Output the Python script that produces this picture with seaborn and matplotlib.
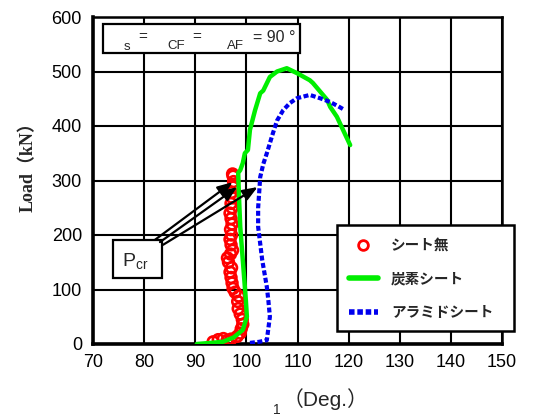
import matplotlib
matplotlib.use("Agg")
import matplotlib.pyplot as plt
import seaborn as sns
import numpy as np
from matplotlib.lines import Line2D
from matplotlib.patches import Rectangle

# ---- data ----
none_deg = [93.5, 94.5, 95.5, 96.2, 97.0, 98.2, 98.8, 99.0, 99.3, 99.2, 98.8, 98.4, 98.3, 98.5,
            97.8, 97.4, 97.2, 97.0, 96.8, 97.1, 96.5, 96.3, 96.9, 97.3, 97.0, 96.8, 97.1, 96.9,
            97.2, 97.0, 96.8, 97.2, 97.0, 97.3, 97.1, 97.4, 97.5, 97.4, 97.3]
none_load = [4, 8, 10, 6, 9, 14, 20, 28, 36, 45, 55, 65, 78, 88,
             95, 102, 112, 122, 132, 140, 150, 158, 165, 172, 182, 192, 200, 210,
             220, 230, 240, 250, 258, 268, 278, 288, 298, 308, 312]

cf_deg = [90.3, 93.0, 95.4, 97.5, 99.3, 100.1, 99.9, 99.7, 99.3, 98.8, 98.6, 98.4, 98.8, 99.3,
          99.7, 100.3, 100.7, 101.7, 102.7, 103.3, 104.6, 106.0, 107.9, 109.9, 112.4, 113.0,
          115.8, 116.4, 117.7, 120.3]
cf_load = [0, 2, 4, 12, 26, 50, 80, 105, 154, 215, 260, 314, 319, 332,
           350, 356, 393, 429, 460, 465, 490, 500, 506, 497, 484, 479,
           448, 435, 417, 365]

af_deg = [100.7, 102.5, 104.0, 104.6, 104.3, 104.0, 103.1, 102.3, 102.3, 102.5, 102.7, 103.3,
          104.0, 105.2, 106.0, 107.2, 108.5, 109.9, 112.4, 114.4, 116.4, 118.0, 119.3]
af_load = [2, 4, 7, 50, 80, 105, 154, 215, 250, 277, 306, 330,
           350, 387, 410, 429, 442, 451, 457, 451, 444, 436, 429]

labels = ["シート無", "炭素シート", "アラミドシート"]
xticks = [70, 80, 90, 100, 110, 120, 130, 140, 150]
yticks = [0, 100, 200, 300, 400, 500, 600]

# ---- style ----
sns.set_style("white")
plt.rcParams["font.family"] = ["Liberation Sans", "Noto Sans CJK JP", "DejaVu Sans"]
plt.rcParams["mathtext.fontset"] = "custom"
plt.rcParams["mathtext.rm"] = "Liberation Sans"
plt.rcParams["mathtext.it"] = "Liberation Sans"

fig = plt.figure(figsize=(5.33, 4.17), dpi=100)
ax = fig.add_axes([93 / 533, 1 - 344 / 417, (502 - 93) / 533, (344 - 17) / 417])

ax.set_xlim(70, 150)
ax.set_ylim(0, 600)
ax.set_xticks(xticks)
ax.set_yticks(yticks)
ax.tick_params(axis="both", length=0, labelsize=13, colors="black")
ax.tick_params(axis="y", pad=8)
ax.tick_params(axis="x", pad=7)
ax.grid(True, color="black", linewidth=1.5)
ax.set_axisbelow(True)
for side in ["top", "right"]:
    ax.spines[side].set_linewidth(1.8)
    ax.spines[side].set_color("black")
for side in ["left", "bottom"]:
    ax.spines[side].set_linewidth(2.6)
    ax.spines[side].set_color("black")

# ---- data marks ----
sns.scatterplot(x=none_deg, y=none_load, ax=ax, marker="o", s=60,
                facecolor="none", edgecolor="red", linewidth=1.9, zorder=3)
sns.lineplot(x=cf_deg, y=cf_load, ax=ax, sort=False, estimator=None,
             color="#00ee00", linewidth=3.2, zorder=4)
sns.lineplot(x=af_deg, y=af_load, ax=ax, sort=False, estimator=None,
             color="#0000ee", linewidth=3.0, linestyle=(0, (1.2, 0.6)), zorder=4)

# ---- annotation box at top ----
ax.add_patch(Rectangle((72.0, 534), 38.5, 54, facecolor="white", edgecolor="black",
                       linewidth=1.6, zorder=5))
box_parts = [(76.7, 545, "s", 9.5, "center"), (79.8, 564, "=", 11, "center"),
             (86.3, 546, "CF", 9.5, "center"), (90.2, 564, "=", 11, "center"),
             (97.9, 546, "AF", 9.5, "center"), (101.2, 563, "= 90 °", 11.5, "left")]
for x, y, s, fs, ha in box_parts:
    ax.text(x, y, s, ha=ha, va="center", fontsize=fs, zorder=6)

# ---- Pcr box and arrows ----
ax.add_patch(Rectangle((73.9, 121), 9.6, 70, facecolor="white", edgecolor="black",
                       linewidth=1.6, zorder=5))
ax.text(75.6, 152, r"P$_{\mathrm{cr}}$", ha="left", va="center", fontsize=14, zorder=6)
arrows = [((82.1, 191), (97.3, 297)), ((83.1, 187), (98.2, 288)), ((83.7, 182), (102.2, 288))]
for (x0, y0), (x1, y1) in arrows:
    ax.annotate("", xy=(x1, y1), xytext=(x0, y0),
                arrowprops=dict(arrowstyle="-|>,head_length=0.9,head_width=0.35",
                                color="black", lw=1.6, shrinkA=0, shrinkB=0), zorder=6)

# ---- legend ----
handles = [
    Line2D([], [], marker="o", linestyle="", markerfacecolor="none", markeredgecolor="red",
           markeredgewidth=2.0, markersize=7),
    Line2D([], [], color="#00ee00", linewidth=4),
    Line2D([], [], color="#0000ee", linewidth=4, linestyle=(0, (1.0, 0.5))),
]
leg = ax.legend(handles, labels, loc="upper left",
                bbox_to_anchor=((337 - 93) / 409, (344 - 225) / 327, (514 - 337) / 409, 0.0),
                mode="expand", borderaxespad=0, frameon=True, fancybox=False,
                edgecolor="black", framealpha=1, handlelength=2.0, handletextpad=0.9,
                labelspacing=1.2, borderpad=0.8,
                prop={"family": ["Noto Sans CJK JP"], "weight": "bold", "size": 10.5})
leg.get_frame().set_linewidth(1.8)
leg.set_zorder(7)

# ---- axis labels ----
fig.text(28 / 533, 1 - 163 / 417, "Load（kN）", rotation=90, ha="center", va="center",
         fontsize=13, fontweight="bold",
         family=["Liberation Serif", "Noto Sans CJK JP"])
fig.text(273 / 533, 1 - 410 / 417, "1", ha="left", va="center", fontsize=10)
fig.text(283 / 533, 1 - 399 / 417, "（Deg.）", ha="left", va="center", fontsize=15,
         family=["Liberation Sans", "Noto Sans CJK JP"])

fig.savefig("out.png", dpi=100)
